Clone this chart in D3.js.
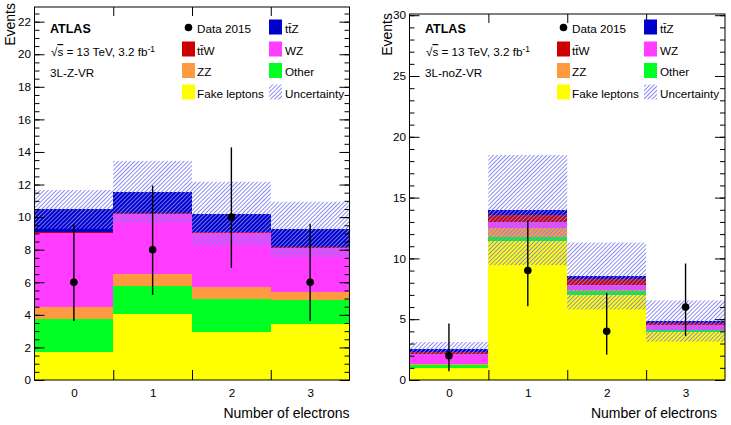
<!DOCTYPE html>
<html><head><meta charset="utf-8">
<script src="https://cdn.jsdelivr.net/npm/d3@7"></script>
<style>
body{margin:0;background:#fff}
svg{display:block;font-family:"Liberation Sans",Arial,Helvetica,sans-serif}
</style>
</head><body>
<svg id="c" width="731" height="425"></svg>
<script>
// ---------- data ----------
const categories = [0, 1, 2, 3];
const seriesKeys = ["fake", "other", "zz", "wz", "ttw", "ttz"];

// 3L-Z-VR (left)
const zvrFake  = [1.74, 4.05, 2.96, 3.44];
const zvrOther = [1.98, 1.72, 2.01, 1.46];
const zvrZZ    = [0.74, 0.73, 0.76, 0.52];
const zvrWZ    = [4.56, 3.68, 3.27, 2.68];
const zvrTTW   = [0.08, 0.10, 0.07, 0.06];
const zvrTTZ   = [1.37, 1.27, 1.15, 1.08];
const zvrUnc   = [1.19, 1.90, 1.95, 1.70];
const zvrData  = [6, 8, 10, 6];
const zvrDataLo = [3.62, 5.23, 6.89, 3.62];
const zvrDataHi = [9.58, 11.94, 14.28, 9.58];
const zvrYTicks = [0, 2, 4, 6, 8, 10, 12, 14, 16, 18, 20, 22];

// 3L-noZ-VR (right)
const nozFake  = [0.96, 11.43, 6.97, 3.91];
const nozOther = [0.28, 0.37, 0.33, 0.17];
const nozZZ    = [0.08, 0.74, 0.10, 0.07];
const nozWZ    = [0.81, 0.46, 0.45, 0.34];
const nozTTW   = [0.21, 0.58, 0.42, 0.20];
const nozTTZ   = [0.22, 0.39, 0.28, 0.16];
const nozUnc   = [0.56, 4.53, 2.75, 1.70];
const nozData  = [2, 9, 4, 6];
const nozDataLo = [0.71, 6.06, 2.09, 3.62];
const nozDataHi = [4.64, 13.12, 7.16, 9.58];
const nozYTicks = [0, 5, 10, 15, 20, 25, 30];

const xTickLabels = ["0", "1", "2", "3"];

// ---------- styles ----------
const colors = {fake:"#ffff00", other:"#00ff22", zz:"#ff9a40", wz:"#ff3cff", ttw:"#cc0000", ttz:"#0000cc"};
const hatchColor = "#8080f0";

const svg = d3.select("#c");
const defs = svg.append("defs");
const pat = defs.append("pattern").attr("id","hatch").attr("patternUnits","userSpaceOnUse")
  .attr("width",2.9).attr("height",10).attr("patternTransform","rotate(45)");
pat.append("rect").attr("x",0).attr("y",0).attr("width",0.9).attr("height",10)
  .attr("style",`fill:${hatchColor};stroke:none`);

const fontTick = 11.7;

function drawPanel(cfg) {
  const g = svg.append("g");
  const x = d3.scaleLinear().domain([-0.5, 3.5]).range([cfg.x0, cfg.x1]);
  const y = d3.scaleLinear().domain([0, cfg.ymax]).range([cfg.yBot, cfg.yTop]);

  const rows = categories.map((c, i) => {
    const r = {cat: c};
    seriesKeys.forEach((k, j) => r[k] = cfg.series[j][i]);
    return r;
  });
  const stacked = d3.stack().keys(seriesKeys)(rows);

  g.append("g").selectAll("g").data(stacked).join("g")
    .attr("fill", d => colors[d.key])
    .selectAll("rect").data(d => d).join("rect")
    .attr("shape-rendering","crispEdges")
    .attr("x", d => x(d.data.cat - 0.5))
    .attr("width", d => x(d.data.cat + 0.5) - x(d.data.cat - 0.5))
    .attr("y", d => y(d[1]))
    .attr("height", d => y(d[0]) - y(d[1]));

  const totals = rows.map(r => d3.sum(seriesKeys, k => r[k]));
  g.append("g").selectAll("rect").data(categories).join("rect")
    .attr("style","fill:url(#hatch);stroke:none")
    .attr("x", c => x(c - 0.5))
    .attr("width", c => x(c + 0.5) - x(c - 0.5))
    .attr("y", (c, i) => y(totals[i] + cfg.unc[i]))
    .attr("height", (c, i) => y(totals[i] - cfg.unc[i]) - y(totals[i] + cfg.unc[i]));

  // frame
  g.append("rect").attr("x", cfg.x0).attr("y", cfg.yTop)
    .attr("width", cfg.x1 - cfg.x0).attr("height", cfg.yBot - cfg.yTop)
    .attr("fill","none").attr("stroke","#000").attr("stroke-width",1);

  const clean = sel => { sel.select(".domain").remove(); sel.attr("font-family", null).attr("font-size", fontTick); };
  const edges = [0.5, 1.5, 2.5];
  g.append("g").attr("transform",`translate(0,${cfg.yBot})`)
    .call(d3.axisBottom(x).tickValues(edges).tickSize(-10).tickFormat("")).call(clean);
  g.append("g").attr("transform",`translate(0,${cfg.yTop})`)
    .call(d3.axisTop(x).tickValues(edges).tickSize(-9).tickFormat("")).call(clean);
  g.append("g").attr("transform",`translate(0,${cfg.yBot})`)
    .call(d3.axisBottom(x).tickValues(categories).tickSize(0).tickPadding(8.7)
      .tickFormat((d, i) => xTickLabels[i])).call(clean)
    .selectAll("text").attr("fill","#000");

  const minor = d3.range(0, cfg.ymax + 1e-9, cfg.minorStep);
  g.append("g").attr("transform",`translate(${cfg.x0},0)`)
    .call(d3.axisLeft(y).tickValues(minor).tickSize(-5).tickFormat("")).call(clean);
  g.append("g").attr("transform",`translate(${cfg.x1},0)`)
    .call(d3.axisRight(y).tickValues(minor).tickSize(-5).tickFormat("")).call(clean);
  g.append("g").attr("transform",`translate(${cfg.x0},0)`)
    .call(d3.axisLeft(y).tickValues(cfg.yTicks).tickSize(-10).tickPadding(3.5)).call(clean)
    .selectAll("text").attr("fill","#000");
  g.append("g").attr("transform",`translate(${cfg.x1},0)`)
    .call(d3.axisRight(y).tickValues(cfg.yTicks).tickSize(-10).tickFormat("")).call(clean);

  // data
  const dg = g.append("g");
  dg.selectAll("line").data(categories).join("line")
    .attr("x1", c => x(c)).attr("x2", c => x(c))
    .attr("y1", (c, i) => y(cfg.dataLo[i])).attr("y2", (c, i) => y(cfg.dataHi[i]))
    .attr("stroke","#000").attr("stroke-width",1.4);
  dg.selectAll("circle").data(categories).join("circle")
    .attr("cx", c => x(c)).attr("cy", (c, i) => y(cfg.data[i])).attr("r",3.8).attr("fill","#000");

  // axis titles
  g.append("text").attr("x", cfg.x1 - cfg.xTitleInset).attr("y", 418).attr("text-anchor","end")
    .attr("font-size",14).text("Number of electrons");
  g.append("text").attr("transform",`translate(${cfg.yTitleX},${cfg.yTitleTop}) rotate(-90)`)
    .attr("text-anchor","end").attr("font-size",14).text("Events");

  // labels
  const dx = cfg.dx;
  g.append("text").attr("x", 50 + dx).attr("y", 33).attr("font-size",12.5)
    .attr("font-weight","bold").text("ATLAS");
  const t = g.append("text").attr("x", 51 + dx).attr("y", 56).attr("font-size",11.7);
  t.append("tspan").text("\u221A");
  t.append("tspan").attr("style","text-decoration:overline").text("s");
  t.append("tspan").text(" = 13 TeV, 3.2 fb");
  t.append("tspan").attr("dy",-4.5).attr("font-size",8.5).text("-1");
  g.append("text").attr("x", 50 + dx).attr("y", 77).attr("font-size",11.7).text(cfg.label);

  // legend
  const rowsY = [32.5, 54.5, 76, 97.5];
  const legend = [
    {col:0, row:0, type:"data", text:"Data 2015"},
    {col:0, row:1, type:"box", key:"ttw", text:"tt\u0304W"},
    {col:0, row:2, type:"box", key:"zz", text:"ZZ"},
    {col:0, row:3, type:"box", key:"fake", text:"Fake leptons"},
    {col:1, row:0, type:"box", key:"ttz", text:"tt\u0304Z"},
    {col:1, row:1, type:"box", key:"wz", text:"WZ"},
    {col:1, row:2, type:"box", key:"other", text:"Other"},
    {col:1, row:3, type:"hatch", text:"Uncertainty"}
  ];
  const colBox = [182 + dx, 269 + dx], colText = [197 + dx, 285 + dx];
  legend.forEach(e => {
    const by = rowsY[e.row];
    if (e.type === "data") {
      g.append("circle").attr("cx", colBox[e.col] + 6.5).attr("cy", by - 5).attr("r",3.8).attr("fill","#000");
    } else {
      g.append("rect").attr("x", colBox[e.col]).attr("y", by - 13).attr("width",13).attr("height",15)
        .attr("style", e.type === "hatch" ? "fill:url(#hatch)" : `fill:${colors[e.key]}`);
    }
    g.append("text").attr("x", colText[e.col]).attr("y", by).attr("font-size",11.7).text(e.text);
  });
}

drawPanel({
  x0: 34.5, x1: 349.5, yTop: 7, yBot: 380, ymax: 22.9, minorStep: 0.5,
  yTicks: zvrYTicks, series: [zvrFake, zvrOther, zvrZZ, zvrWZ, zvrTTW, zvrTTZ],
  unc: zvrUnc, data: zvrData, dataLo: zvrDataLo, dataHi: zvrDataHi,
  label: "3L-Z-VR", dx: 0, xTitleInset: 0, yTitleX: 15, yTitleTop: 3
});
drawPanel({
  x0: 409.5, x1: 725, yTop: 14, yBot: 380, ymax: 30.1, minorStep: 1,
  yTicks: nozYTicks, series: [nozFake, nozOther, nozZZ, nozWZ, nozTTW, nozTTZ],
  unc: nozUnc, data: nozData, dataLo: nozDataLo, dataHi: nozDataHi,
  label: "3L-noZ-VR", dx: 375, xTitleInset: 8, yTitleX: 392, yTitleTop: 13
});
</script>
</body></html>
